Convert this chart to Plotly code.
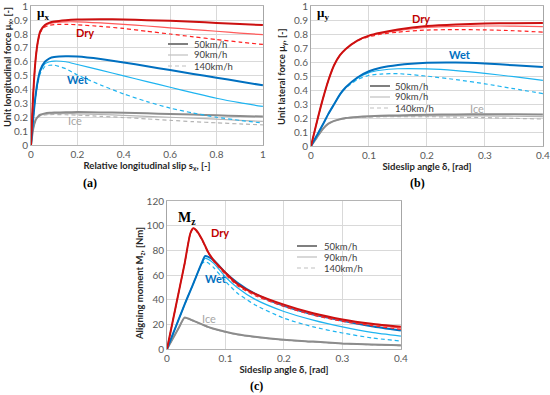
import plotly.graph_objects as go

W, H = 550, 395

# ---------------- Panel (a): mu_x vs longitudinal slip ----------------
slip_a = [0, 0.01, 0.02, 0.03, 0.04, 0.06, 0.08, 0.1, 0.15, 0.2, 0.3, 0.4, 0.5, 0.6, 0.7, 0.8, 0.9, 1.0]
a_dry_50 = [0, 0.38, 0.62, 0.75, 0.82, 0.865, 0.882, 0.89, 0.9, 0.905, 0.907, 0.905, 0.9, 0.895, 0.888, 0.88, 0.872, 0.865]
a_dry_90 = [0, 0.38, 0.62, 0.75, 0.815, 0.86, 0.875, 0.882, 0.888, 0.888, 0.88, 0.87, 0.858, 0.845, 0.832, 0.82, 0.807, 0.795]
a_dry_140 = [0, 0.38, 0.62, 0.745, 0.81, 0.85, 0.863, 0.868, 0.87, 0.867, 0.855, 0.84, 0.82, 0.8, 0.78, 0.76, 0.742, 0.725]
a_wet_50 = [0, 0.2, 0.36, 0.47, 0.54, 0.6, 0.625, 0.634, 0.64, 0.638, 0.62, 0.595, 0.568, 0.54, 0.512, 0.485, 0.458, 0.43]
a_wet_90 = [0, 0.2, 0.36, 0.46, 0.53, 0.585, 0.6, 0.605, 0.6, 0.58, 0.54, 0.498, 0.457, 0.416, 0.376, 0.337, 0.305, 0.278]
a_wet_140 = [0, 0.2, 0.35, 0.45, 0.515, 0.565, 0.575, 0.576, 0.55, 0.505, 0.433, 0.368, 0.313, 0.266, 0.23, 0.2, 0.178, 0.158]
a_ice_50 = [0, 0.12, 0.18, 0.205, 0.218, 0.228, 0.232, 0.234, 0.236, 0.237, 0.235, 0.232, 0.228, 0.224, 0.219, 0.214, 0.209, 0.205]
a_ice_90 = [0, 0.12, 0.18, 0.203, 0.214, 0.222, 0.225, 0.226, 0.226, 0.225, 0.22, 0.214, 0.207, 0.2, 0.193, 0.186, 0.178, 0.17]
a_ice_140 = [0, 0.12, 0.178, 0.2, 0.21, 0.217, 0.219, 0.22, 0.218, 0.215, 0.207, 0.198, 0.188, 0.178, 0.168, 0.16, 0.152, 0.145]

# ---------------- Panel (b): mu_y vs sideslip angle ----------------
slip_b = [0, 0.01, 0.02, 0.03, 0.04, 0.05, 0.06, 0.08, 0.1, 0.12, 0.15, 0.2, 0.25, 0.3, 0.35, 0.4]
b_dry_50 = [0, 0.17, 0.33, 0.47, 0.58, 0.65, 0.695, 0.755, 0.79, 0.81, 0.833, 0.858, 0.87, 0.876, 0.879, 0.88]
b_dry_90 = [0, 0.17, 0.33, 0.47, 0.58, 0.65, 0.695, 0.755, 0.788, 0.806, 0.826, 0.848, 0.856, 0.859, 0.858, 0.855]
b_dry_140 = [0, 0.17, 0.33, 0.47, 0.58, 0.65, 0.695, 0.752, 0.782, 0.8, 0.815, 0.83, 0.833, 0.831, 0.825, 0.815]
b_wet_50 = [0, 0.075, 0.15, 0.23, 0.3, 0.37, 0.42, 0.49, 0.535, 0.56, 0.58, 0.595, 0.597, 0.59, 0.578, 0.565]
b_wet_90 = [0, 0.075, 0.15, 0.23, 0.3, 0.37, 0.42, 0.485, 0.525, 0.542, 0.553, 0.552, 0.54, 0.52, 0.496, 0.47]
b_wet_140 = [0, 0.075, 0.15, 0.23, 0.3, 0.37, 0.415, 0.475, 0.505, 0.515, 0.518, 0.5, 0.475, 0.445, 0.41, 0.375]
b_ice_50 = [0, 0.06, 0.12, 0.16, 0.18, 0.192, 0.2, 0.208, 0.213, 0.216, 0.219, 0.223, 0.226, 0.227, 0.227, 0.226]
b_ice_90 = [0, 0.06, 0.12, 0.16, 0.18, 0.19, 0.198, 0.206, 0.21, 0.212, 0.214, 0.216, 0.216, 0.215, 0.213, 0.21]
b_ice_140 = [0, 0.06, 0.12, 0.158, 0.178, 0.19, 0.197, 0.204, 0.207, 0.209, 0.21, 0.21, 0.207, 0.203, 0.198, 0.193]

# ---------------- Panel (c): aligning moment vs sideslip angle ----------------
slip_c = [0, 0.01, 0.02, 0.03, 0.04, 0.045, 0.05, 0.06, 0.065, 0.07, 0.08, 0.1, 0.12, 0.15, 0.2, 0.25, 0.3, 0.35, 0.4]
c_dry_50 = [0, 23, 46, 69, 94, 98, 96.5, 89, 84, 79, 72, 62, 53, 45, 36, 29, 24, 20.5, 18]
c_dry_90 = [0, 23, 46, 69, 94, 98, 96.5, 89, 84, 79, 72, 61.5, 52.5, 44.5, 35.5, 28.5, 23.5, 20, 17]
c_dry_140 = [0, 23, 46, 69, 94, 98, 96, 88.5, 83.5, 78.5, 71, 60.5, 51.5, 43.5, 34.5, 27.5, 22.5, 19, 16]
c_wet_50 = [0, 12, 24, 36, 47.5, 53, 59, 70.5, 75.5, 75, 72, 62, 54, 45, 35, 28, 23, 18.5, 15]
c_wet_90 = [0, 12, 24, 36, 47.5, 53, 59, 70, 73.5, 73, 69.5, 58.5, 50, 40.5, 30.5, 23.5, 18, 13.5, 10.5]
c_wet_140 = [0, 12, 24, 36, 47.5, 53, 59, 69.5, 71, 70, 66, 55, 45.5, 36, 25, 18, 13, 9, 6.5]
c_ice_50 = [0, 8.5, 17, 25.5, 24, 23, 22, 20, 19, 18, 16.5, 14, 12, 10, 7.5, 6, 4.5, 3.7, 3]
c_ice_90 = [0, 8.5, 17, 25.3, 23.8, 22.8, 21.8, 19.8, 18.8, 17.8, 16.3, 13.8, 11.8, 9.8, 7.3, 5.8, 4.4, 3.5, 2.8]
c_ice_140 = [0, 8.5, 17, 25.2, 23.7, 22.7, 21.7, 19.7, 18.7, 17.7, 16.2, 13.7, 11.7, 9.7, 7.2, 5.7, 4.3, 3.4, 2.7]

speed_labels = ["50km/h", "90km/h", "140km/h"]

# tick values / labels
ticks_mu = [0, 0.1, 0.2, 0.3, 0.4, 0.5, 0.6, 0.7, 0.8, 0.9, 1.0]
ticks_mu_text = ["0", "0.1", "0.2", "0.3", "0.4", "0.5", "0.6", "0.7", "0.8", "0.9", "1"]
ticks_sx = [0, 0.2, 0.4, 0.6, 0.8, 1.0]
ticks_sx_text = ["0", "0.2", "0.4", "0.6", "0.8", "1"]
ticks_delta = [0, 0.1, 0.2, 0.3, 0.4]
ticks_delta_text = ["0", "0.1", "0.2", "0.3", "0.4"]
ticks_mz = [0, 20, 40, 60, 80, 100, 120]
ticks_mz_text = ["0", "20", "40", "60", "80", "100", "120"]

# styles
RED = {"50": "#cc1010", "90": "#ff5a5a", "140": "#ff2020"}
BLUE = {"50": "#0070c0", "90": "#1eb4f0", "140": "#1eb4f0"}
GREY = {"50": "#8c8c8c", "90": "#b4b4b4", "140": "#b4b4b4"}
WIDTH = {"50": 2.0, "90": 1.2, "140": 1.2}
DASH = {"50": "solid", "90": "solid", "140": "4px,3px"}

fig = go.Figure()

def add_set(x, series, palette, xa, ya):
    for key, vals in series:
        fig.add_trace(go.Scatter(
            x=x, y=vals, mode="lines", xaxis=xa, yaxis=ya, showlegend=False,
            line=dict(color=palette[key], width=WIDTH[key], dash=DASH[key], shape="spline", smoothing=0.6),
            hoverinfo="skip"))

# draw order: ice, wet, dry ; within set: 140, 90, 50
add_set(slip_a, [("140", a_ice_140), ("90", a_ice_90), ("50", a_ice_50)], GREY, "x", "y")
add_set(slip_a, [("140", a_wet_140), ("90", a_wet_90), ("50", a_wet_50)], BLUE, "x", "y")
add_set(slip_a, [("140", a_dry_140), ("90", a_dry_90), ("50", a_dry_50)], RED, "x", "y")

add_set(slip_b, [("140", b_ice_140), ("90", b_ice_90), ("50", b_ice_50)], GREY, "x2", "y2")
add_set(slip_b, [("140", b_wet_140), ("90", b_wet_90), ("50", b_wet_50)], BLUE, "x2", "y2")
add_set(slip_b, [("140", b_dry_140), ("90", b_dry_90), ("50", b_dry_50)], RED, "x2", "y2")

add_set(slip_c, [("140", c_ice_140), ("90", c_ice_90), ("50", c_ice_50)], GREY, "x3", "y3")
add_set(slip_c, [("140", c_wet_140), ("90", c_wet_90), ("50", c_wet_50)], BLUE, "x3", "y3")
add_set(slip_c, [("140", c_dry_140), ("90", c_dry_90), ("50", c_dry_50)], RED, "x3", "y3")

# layout helpers (pixel -> paper)
def px(x):
    return x / W

def py(y):
    return 1 - y / H

SANS = "Lato, Liberation Sans, sans-serif"
TICKFONT = dict(family=SANS, size=10, color="#595959")
TITLEFONT = dict(family=SANS, size=9.5, color="#262626")

def xaxis(dom, rng, tv, tt, title, anchor):
    return dict(domain=[px(dom[0]), px(dom[1])], range=rng, tickmode="array", tickvals=tv, ticktext=tt,
                anchor=anchor,
                showgrid=True, gridcolor="#d9d9d9", gridwidth=1, zeroline=False,
                showline=True, mirror=True, linecolor="#b4b4b4", linewidth=1,
                ticks="", tickfont=TICKFONT, automargin=False, ticklabeloverflow="allow",
                title=dict(text=title, font=TITLEFONT, standoff=0))

def yaxis(dom, rng, tv, tt, anchor):
    return dict(domain=[py(dom[1]), py(dom[0])], range=rng, tickmode="array", tickvals=tv, ticktext=tt,
                anchor=anchor,
                showgrid=True, gridcolor="#d9d9d9", gridwidth=1, zeroline=False,
                showline=True, mirror=True, linecolor="#a6a6a6", linewidth=1,
                ticks="", tickfont=TICKFONT, automargin=False, ticklabeloverflow="allow")

fig.update_layout(
    width=W, height=H, margin=dict(l=0, r=0, t=0, b=0),
    paper_bgcolor="white", plot_bgcolor="white", showlegend=False,
    xaxis=xaxis((31, 263), [0, 1.0005], ticks_sx, ticks_sx_text,
                "<b>Relative longitudinal slip s<sub>x</sub>, [-]</b>", "y"),
    yaxis=yaxis((6, 145), [0, 1.002], ticks_mu, ticks_mu_text, "x"),
    xaxis2=xaxis((311, 543), [0, 0.4002], ticks_delta, ticks_delta_text, "<b>Sideslip angle δ, [rad]</b>", "y2"),
    yaxis2=yaxis((6, 146), [0, 1.002], ticks_mu, ticks_mu_text, "x2"),
    xaxis3=xaxis((167, 401), [0, 0.4002], ticks_delta, ticks_delta_text, "<b>Sideslip angle δ, [rad]</b>", "y3"),
    yaxis3=yaxis((201, 349), [0, 120.2], ticks_mz, ticks_mz_text, "x3"),
)

ann = []
shapes = []

def label(text, x, y, xr, yr, color, size=11, family=SANS, angle=0, xanchor="left"):
    ann.append(dict(text=text, x=x, y=y, xref=xr, yref=yr, showarrow=False, textangle=angle,
                    font=dict(family=family, size=size, color=color), xanchor=xanchor, yanchor="middle"))

# y axis titles (rotated text)
label("<b>Unit longitudinal force μ<sub>x</sub>, [-]</b>", px(8), py(67), "paper", "paper", "#262626", 9.5, SANS, -90, "center")
label("<b>Unit lateral force μ<sub>y</sub>, [-]</b>", px(282), py(77), "paper", "paper", "#262626", 9.5, SANS, -90, "center")
label("<b>Aligning moment M<sub>z</sub>, [Nm]</b>", px(140), py(283), "paper", "paper", "#262626", 9.5, SANS, -90, "center")

# curve labels
label("<b>Dry</b>", 0.185, 0.81, "x", "y", "#c00000")
label("<b>Wet</b>", 0.145, 0.475, "x", "y", "#0070c0")
label("Ice", 0.15, 0.18, "x", "y", "#a6a6a6")
label("<b>Dry</b>", 0.17, 0.915, "x2", "y2", "#c00000")
label("<b>Wet</b>", 0.235, 0.655, "x2", "y2", "#0070c0")
label("Ice", 0.27, 0.27, "x2", "y2", "#a6a6a6")
label("<b>Dry</b>", 0.072, 95, "x3", "y3", "#c00000")
label("<b>Wet</b>", 0.062, 57, "x3", "y3", "#0070c0")
label("Ice", 0.056, 25, "x3", "y3", "#a6a6a6")

# panel symbols
SERIF = "Liberation Serif, DejaVu Serif, serif"
label("<b>μ<sub>x</sub></b>", px(35), py(14), "paper", "paper", "#000000", 13, SERIF)
label("<b>μ<sub>y</sub></b>", px(315), py(14), "paper", "paper", "#000000", 13, SERIF)
label("<b>M<sub>z</sub></b>", px(176), py(218), "paper", "paper", "#000000", 14, SERIF)

# panel captions
for t, xx, yy in [("<b>(a)</b>", 90, 183), ("<b>(b)</b>", 417, 183), ("<b>(c)</b>", 256, 386)]:
    ann.append(dict(text=t, x=px(xx), y=py(yy), xref="paper", yref="paper", showarrow=False,
                    font=dict(family=SERIF, size=12, color="#000000"), xanchor="center", yanchor="middle"))

# legends (key lines + text)
LEG_COL = {"50": "#7f7f7f", "90": "#bfbfbf", "140": "#bfbfbf"}
for (x0, x1, xt, ys) in [(168, 188, 192, (44, 55, 66)), (370, 390, 393, (86, 97, 108)), (297, 317, 322, (246, 257, 268))]:
    for key, lab, yy in zip(["50", "90", "140"], speed_labels, ys):
        shapes.append(dict(type="line", xref="paper", yref="paper", x0=px(x0), x1=px(x1), y0=py(yy), y1=py(yy),
                           line=dict(color=LEG_COL[key], width=WIDTH[key], dash=DASH[key])))
        ann.append(dict(text=lab, x=px(xt), y=py(yy), xref="paper", yref="paper", showarrow=False,
                        font=dict(family=SANS, size=9.5, color="#404040"),
                        xanchor="left", yanchor="middle"))

fig.update_layout(annotations=ann, shapes=shapes)
fig.write_html("out.html", config={"displayModeBar": False},
               post_script="document.body.style.margin='0px';document.body.style.padding='0px';")
